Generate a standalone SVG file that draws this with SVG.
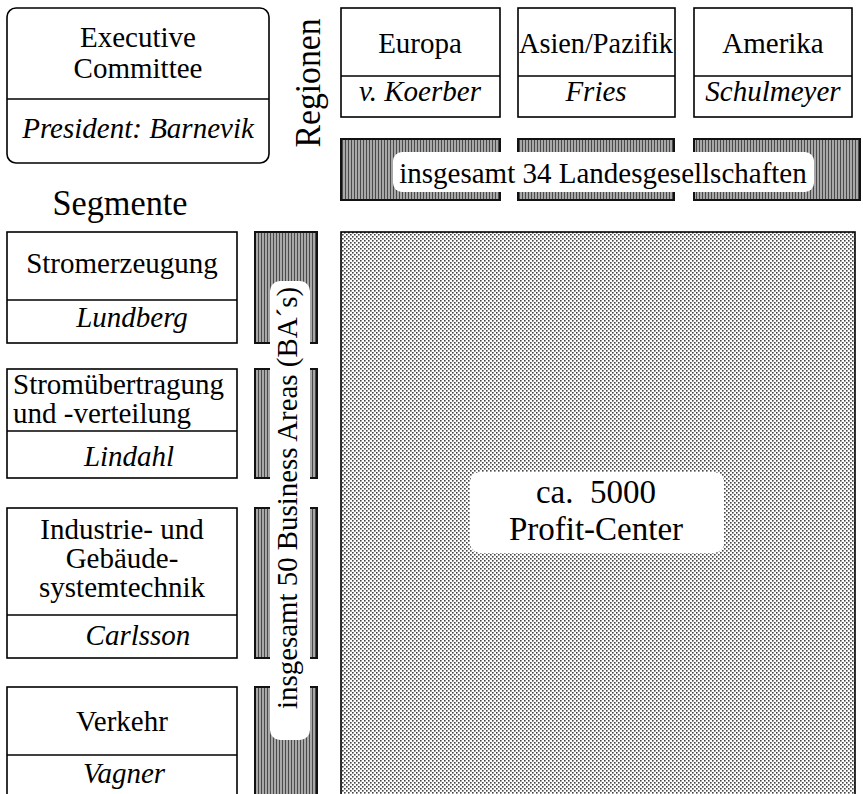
<svg xmlns="http://www.w3.org/2000/svg" width="863" height="794" viewBox="0 0 863 794">
<defs>
<pattern id="stripes" width="3" height="3" patternUnits="userSpaceOnUse">
<rect width="3" height="3" fill="#a8a8a8"/>
<rect width="1" height="3" fill="#4a4a4a"/>
</pattern>
<pattern id="dots" width="4" height="4" patternUnits="userSpaceOnUse">
<rect width="4" height="4" fill="#ffffff"/>
<rect x="0" y="0" width="1.6" height="1.6" fill="#444"/>
<rect x="2" y="2" width="1.6" height="1.6" fill="#444"/>
</pattern>
</defs>
<style>
.box{fill:#fff;stroke:#000;stroke-width:1.6}
.div{stroke:#000;stroke-width:1.4}
.t{font-family:"Liberation Serif","Times New Roman",serif;font-size:29px;fill:#000;text-anchor:middle}
.i{font-style:italic}
.bar{fill:url(#stripes);stroke:#111;stroke-width:2}
.lbl{fill:#fff}
</style>
<rect width="863" height="794" fill="#fff"/>

<g id="executive">
<rect class="box" x="7" y="8" width="262" height="155" rx="9"/>
<line class="div" x1="7" y1="99" x2="269" y2="99"/>
<text class="t" x="138" y="47">Executive</text>
<text class="t" x="138" y="78">Committee</text>
<text class="t i" x="138" y="138">President: Barnevik</text>
</g>

<g id="regionen-label">
<text class="t" transform="translate(320,83) rotate(-90)" x="0" y="0" style="font-size:36px" textLength="129" lengthAdjust="spacingAndGlyphs">Regionen</text>
</g>

<g id="europa">
<rect class="box" x="341" y="8" width="159" height="109"/>
<line class="div" x1="341" y1="76" x2="500" y2="76"/>
<text class="t" x="420" y="53">Europa</text>
<text class="t i" x="420" y="101">v. Koerber</text>
</g>
<g id="asien">
<rect class="box" x="518" y="8" width="157" height="109"/>
<line class="div" x1="518" y1="76" x2="675" y2="76"/>
<text class="t" x="596" y="53" textLength="154" lengthAdjust="spacingAndGlyphs">Asien/Pazifik</text>
<text class="t i" x="596" y="101">Fries</text>
</g>
<g id="amerika">
<rect class="box" x="694" y="8" width="158" height="109"/>
<line class="div" x1="694" y1="76" x2="852" y2="76"/>
<text class="t" x="773" y="53">Amerika</text>
<text class="t i" x="773" y="101">Schulmeyer</text>
</g>

<g id="landesgesellschaften">
<rect class="bar" x="341" y="139" width="159" height="61"/>
<rect class="bar" x="518" y="139" width="156" height="61"/>
<rect class="bar" x="694" y="139" width="166" height="61"/>
<rect class="lbl" x="393" y="152" width="421" height="40" rx="9"/>
<text class="t" x="603" y="183">insgesamt 34 Landesgesellschaften</text>
</g>

<g id="segmente-label">
<text class="t" x="120" y="215" style="font-size:36px" textLength="135" lengthAdjust="spacingAndGlyphs">Segmente</text>
</g>

<g id="stromerzeugung">
<rect class="box" x="7" y="232" width="230" height="111"/>
<line class="div" x1="7" y1="300" x2="237" y2="300"/>
<text class="t" x="122" y="273">Stromerzeugung</text>
<text class="t i" x="132" y="327">Lundberg</text>
</g>

<g id="stromuebertragung">
<rect class="box" x="7" y="369" width="230" height="109"/>
<line class="div" x1="7" y1="431" x2="237" y2="431"/>
<text class="t" x="13" y="394" style="text-anchor:start">Stromübertragung</text>
<text class="t" x="13" y="423" style="text-anchor:start">und -verteilung</text>
<text class="t i" x="129" y="466">Lindahl</text>
</g>

<g id="industrie">
<rect class="box" x="7" y="508" width="230" height="150"/>
<line class="div" x1="7" y1="615" x2="237" y2="615"/>
<text class="t" x="122" y="539">Industrie- und</text>
<text class="t" x="122" y="568">Gebäude-</text>
<text class="t" x="122" y="597">systemtechnik</text>
<text class="t i" x="138" y="645">Carlsson</text>
</g>

<g id="verkehr">
<rect class="box" x="7" y="687" width="230" height="110"/>
<line class="div" x1="7" y1="755" x2="237" y2="755"/>
<text class="t" x="122" y="731">Verkehr</text>
<text class="t i" x="124" y="783">Vagner</text>
</g>

<g id="business-areas">
<rect class="bar" x="255" y="232" width="62" height="111"/>
<rect class="bar" x="255" y="369" width="62" height="109"/>
<rect class="bar" x="255" y="508" width="62" height="150"/>
<rect class="bar" x="255" y="687" width="62" height="110"/>
<rect class="lbl" x="270" y="281" width="40" height="459" rx="10"/>
<text class="t" transform="translate(297,498) rotate(-90)" x="0" y="0" textLength="422" lengthAdjust="spacingAndGlyphs">insgesamt 50 Business Areas (BA´s)</text>
</g>

<g id="profit-center">
<rect x="341" y="232" width="514" height="565" fill="url(#dots)" stroke="#000" stroke-width="1.6"/>
<rect class="lbl" x="470" y="472" width="254" height="81" rx="10"/>
<text class="t" x="596" y="503" style="font-size:33px">ca.&#160; 5000</text>
<text class="t" x="596" y="540" style="font-size:33px">Profit-Center</text>
</g>

<g id="connectors"></g>
</svg>
